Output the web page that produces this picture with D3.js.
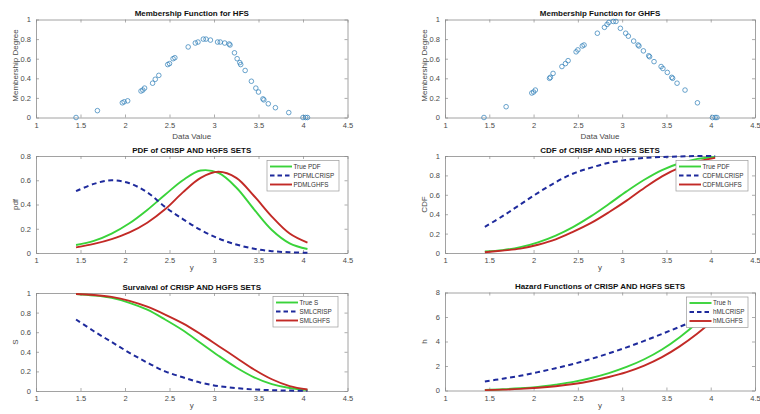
<!DOCTYPE html>
<html><head><meta charset="utf-8">
<script src="https://cdn.jsdelivr.net/npm/d3@7"></script>
<style>body{margin:0;background:#fff}svg{display:block}</style>
</head><body><svg id="c" width="760" height="414"></svg>
<script>
// ---------- data ----------
const xTicks = [1, 1.5, 2, 2.5, 3, 3.5, 4, 4.5];
const hfsX  = [1.45,1.69,1.97,1.99,2.03,2.18,2.20,2.22,2.31,2.34,2.38,2.48,2.50,2.54,2.56,2.71,2.79,2.82,2.88,2.91,2.96,3.04,3.07,3.12,3.17,3.18,3.23,3.26,3.29,3.30,3.35,3.42,3.47,3.50,3.55,3.56,3.61,3.69,3.84,4.00,4.03,4.05];
const hfsMu = [0,0.07,0.15,0.16,0.17,0.27,0.28,0.30,0.35,0.39,0.43,0.54,0.55,0.60,0.61,0.72,0.76,0.77,0.80,0.80,0.79,0.77,0.77,0.76,0.75,0.74,0.66,0.60,0.56,0.54,0.48,0.37,0.30,0.26,0.19,0.18,0.14,0.10,0.05,0,0,0];
const ghfsX  = [1.44,1.69,1.98,2.00,2.02,2.18,2.19,2.22,2.32,2.36,2.39,2.48,2.50,2.55,2.57,2.72,2.80,2.83,2.85,2.90,2.93,2.98,3.04,3.07,3.13,3.18,3.19,3.24,3.30,3.31,3.36,3.44,3.46,3.51,3.56,3.57,3.62,3.71,3.85,4.02,4.05,4.07];
const ghfsMu = [0,0.11,0.25,0.26,0.28,0.40,0.41,0.45,0.52,0.55,0.58,0.67,0.69,0.73,0.74,0.86,0.92,0.95,0.97,0.98,0.98,0.91,0.86,0.83,0.78,0.74,0.73,0.68,0.63,0.62,0.57,0.52,0.50,0.46,0.41,0.40,0.35,0.28,0.15,0,0,0];

const yGrid = [1.45,1.65,1.85,2.05,2.25,2.45,2.65,2.85,3.05,3.25,3.45,3.65,3.85,4.05];
const pdfTrue  = [0.066,0.10,0.16,0.245,0.355,0.48,0.60,0.68,0.66,0.54,0.36,0.19,0.08,0.033];
const pdfCrisp = [0.51,0.57,0.60,0.575,0.50,0.38,0.28,0.19,0.12,0.07,0.035,0.015,0.006,0.002];
const pdfGhfs  = [0.046,0.075,0.115,0.17,0.25,0.36,0.50,0.62,0.67,0.62,0.47,0.30,0.16,0.085];
const cdfTrue  = [0.015,0.03,0.06,0.11,0.18,0.27,0.38,0.505,0.635,0.755,0.855,0.925,0.97,0.99];
const cdfCrisp = [0.27,0.38,0.50,0.62,0.73,0.82,0.88,0.93,0.96,0.98,0.99,0.995,1.0,1.0];
const cdfGhfs  = [0.008,0.025,0.045,0.085,0.14,0.22,0.31,0.42,0.54,0.67,0.79,0.88,0.94,0.98];
const sTrue  = [0.99,0.975,0.95,0.90,0.83,0.73,0.62,0.49,0.36,0.24,0.14,0.07,0.03,0.01];
const sCrisp = [0.73,0.61,0.50,0.39,0.29,0.20,0.14,0.085,0.05,0.03,0.015,0.008,0.004,0.002];
const sGhfs  = [0.99,0.98,0.96,0.92,0.86,0.78,0.69,0.58,0.46,0.34,0.22,0.12,0.05,0.015];
const hTrue  = [0.05,0.10,0.18,0.30,0.48,0.70,1.02,1.42,1.92,2.55,3.35,4.35,5.55,6.95];
const hCrisp = [0.74,0.96,1.2,1.5,1.82,2.17,2.58,3.03,3.52,4.05,4.62,5.2,5.8,6.45];
const hGhfs  = [0.03,0.07,0.13,0.22,0.35,0.53,0.78,1.1,1.5,2.03,2.72,3.6,4.65,5.85];

const yTicks01 = [0,0.2,0.4,0.6,0.8,1];
const yTicksPdf = [0,0.2,0.4,0.6,0.8];
const yTicksH = [0,2,4,6,8];

// ---------- styles ----------
const GREEN = "#3ad33a", BLUE = "#1e2a9c", RED = "#c22a26";
const FONT = "'Liberation Sans', Arial, Helvetica, sans-serif";
const svg = d3.select("#c");

const panels = [
  {x:36, y:19.5, w:311.5, h:98, title:"Membership Function for HFS", xl:"Data Value", yl:"Membership Degree",
   yd:[0,1], yt:yTicks01, scatter:[hfsX,hfsMu]},
  {x:445, y:19.5, w:310, h:98, title:"Membership Function for GHFS", xl:"Data Value", yl:"Membership Degree",
   yd:[0,1], yt:yTicks01, scatter:[ghfsX,ghfsMu]},
  {x:36, y:156, w:311.5, h:97, title:"PDF of CRISP AND HGFS SETS", xl:"y", yl:"pdf",
   yd:[0,0.8], yt:yTicksPdf, lines:[[pdfTrue,"True PDF",GREEN,false],[pdfCrisp,"PDFMLCRISP",BLUE,true],[pdfGhfs,"PDMLGHFS",RED,false]],
   leg:{x:267, y:160.5, w:72}},
  {x:445, y:156, w:310, h:97, title:"CDF of CRISP AND HGFS SETS", xl:"y", yl:"CDF",
   yd:[0,1], yt:yTicks01, lines:[[cdfTrue,"True PDF",GREEN,false],[cdfCrisp,"CDFMLCRISP",BLUE,true],[cdfGhfs,"CDFMLGHFS",RED,false]],
   leg:{x:676, y:160.5, w:72}},
  {x:36, y:293, w:311.5, h:98, title:"Survaival of CRISP AND HGFS SETS", xl:"y", yl:"S",
   yd:[0,1], yt:yTicks01, lines:[[sTrue,"True S",GREEN,false],[sCrisp,"SMLCRISP",BLUE,true],[sGhfs,"SMLGHFS",RED,false]],
   leg:{x:273, y:296.5, w:65}},
  {x:445, y:292.5, w:310, h:98, title:"Hazard Functions of CRISP AND HGFS SETS", xl:"y", yl:"h",
   yd:[0,8], yt:yTicksH, lines:[[hTrue,"True h",GREEN,false],[hCrisp,"hMLCRISP",BLUE,true],[hGhfs,"hMLGHFS",RED,false]],
   leg:{x:686.5, y:297, w:61.5}}
];

panels.forEach(p => {
  const g = svg.append("g");
  const xs = d3.scaleLinear().domain([1,4.5]).range([p.x, p.x+p.w]);
  const ys = d3.scaleLinear().domain(p.yd).range([p.y+p.h, p.y]);
  const AX = "#8a8a8a", TX = "#4a4a4a";

  const bottom = g.append("g").attr("transform",`translate(0,${p.y+p.h})`)
    .call(d3.axisBottom(xs).tickValues(xTicks).tickFormat(d3.format("")).tickSizeInner(-3).tickSizeOuter(0).tickPadding(5));
  const top = g.append("g").attr("transform",`translate(0,${p.y})`)
    .call(d3.axisTop(xs).tickValues(xTicks).tickFormat("").tickSizeInner(-3).tickSizeOuter(0));
  const left = g.append("g").attr("transform",`translate(${p.x},0)`)
    .call(d3.axisLeft(ys).tickValues(p.yt).tickFormat(d3.format("")).tickSizeInner(-3).tickSizeOuter(0).tickPadding(5));
  const right = g.append("g").attr("transform",`translate(${p.x+p.w},0)`)
    .call(d3.axisRight(ys).tickValues(p.yt).tickFormat("").tickSizeInner(-3).tickSizeOuter(0));
  [bottom,top,left,right].forEach(a => {
    a.select(".domain").attr("stroke",AX).attr("stroke-width",0.8);
    a.selectAll(".tick line").attr("stroke",AX).attr("stroke-width",0.7);
    a.selectAll(".tick text").attr("fill",TX).attr("font-family",FONT).attr("font-size",7.5);
  });

  g.append("text").attr("x",p.x+p.w/2).attr("y",p.y-3.5).attr("text-anchor","middle")
    .attr("font-family",FONT).attr("font-weight","bold").attr("font-size",8).attr("fill","#111").text(p.title);
  g.append("text").attr("x",p.x+p.w/2).attr("y",p.y+p.h+(p.xl==="y"?17:21.5)).attr("text-anchor","middle")
    .attr("font-family",FONT).attr("font-size",8).attr("fill",TX).text(p.xl);
  g.append("text").attr("transform",`translate(${p.x-18},${p.y+p.h/2-(p.scatter?3:0)}) rotate(-90)`).attr("text-anchor","middle")
    .attr("font-family",FONT).attr("font-size",8).attr("fill",TX).text(p.yl);

  if (p.scatter) {
    const [sx, sy] = p.scatter;
    g.append("g").selectAll("circle").data(sx.map((v,i)=>[v,sy[i]])).join("circle")
      .attr("cx",d=>xs(d[0])).attr("cy",d=>ys(d[1])).attr("r",2.3)
      .attr("fill","none").attr("stroke","#2f7fb8").attr("stroke-width",0.8).attr("stroke-opacity",0.9);
  }
  if (p.lines) {
    const line = d3.line().x((d,i)=>xs(yGrid[i])).y(d=>ys(d)).curve(d3.curveCatmullRom.alpha(0.5));
    p.lines.forEach(([vals,name,col,dash]) => {
      g.append("path").attr("d",line(vals)).attr("fill","none").attr("stroke",col)
        .attr("stroke-width",dash?2:1.9).attr("stroke-dasharray",dash?"5,3.5":null);
    });
    const L = p.leg;
    g.append("rect").attr("x",L.x).attr("y",L.y).attr("width",L.w).attr("height",30.5)
      .attr("fill","#fff").attr("stroke","#9a9a9a").attr("stroke-width",0.7);
    p.lines.forEach(([vals,name,col,dash],i) => {
      const yy = L.y + 6 + i*9;
      g.append("line").attr("x1",L.x+3).attr("x2",L.x+25).attr("y1",yy).attr("y2",yy)
        .attr("stroke",col).attr("stroke-width",1.9).attr("stroke-dasharray",dash?"4.5,3":null);
      g.append("text").attr("x",L.x+26.5).attr("y",yy+2.3).attr("font-family",FONT).attr("font-size",6.3)
        .attr("fill","#333").text(name);
    });
  }
});
</script></body></html>
